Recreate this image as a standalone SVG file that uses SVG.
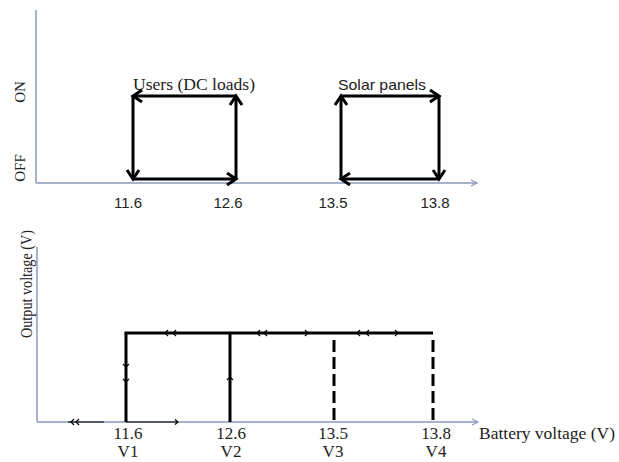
<svg xmlns="http://www.w3.org/2000/svg" width="619" height="462" viewBox="0 0 619 462">
<defs>
<marker id="head" markerUnits="userSpaceOnUse" markerWidth="20" markerHeight="20" refX="10" refY="6.5" orient="auto" viewBox="0 0 20 13">
<path d="M1,0.5 L10,6.5 L1,12.5" fill="none" stroke="#000" stroke-width="3" stroke-linejoin="miter"/>
</marker>
<marker id="ax" markerUnits="userSpaceOnUse" markerWidth="10" markerHeight="10" refX="7" refY="4" orient="auto" viewBox="0 0 10 8">
<path d="M1,1 L7,4 L1,7" fill="none" stroke="#8a9abb" stroke-width="1.2"/>
</marker>
</defs>
<style>
.axis{stroke:#8a9abb;stroke-width:1.5;fill:none}
.box{stroke:#000;stroke-width:3;fill:none;marker-end:url(#head)}
.solid{stroke:#000;stroke-width:3;fill:none}
.dash{stroke:#000;stroke-width:3;fill:none;stroke-dasharray:12 5}
.tiny{stroke:#000;stroke-width:1.2;fill:none}
.serif{font-family:"Liberation Serif","Times New Roman",serif;fill:#222}
.sans{font-family:"Liberation Sans",Arial,sans-serif;fill:#222}
</style>
<rect width="619" height="462" fill="#fff"/>

<g id="top-axes">
<line class="axis" x1="36" y1="10" x2="36" y2="183"/>
<line class="axis" x1="36" y1="183" x2="477" y2="183" marker-end="url(#ax)"/>
<text class="serif" font-size="15" transform="translate(25,92) rotate(-90)" text-anchor="middle">ON</text>
<text class="serif" font-size="15" transform="translate(25,168) rotate(-90)" text-anchor="middle">OFF</text>
<text class="sans" font-size="15" x="128" y="208" text-anchor="middle">11.6</text>
<text class="sans" font-size="15" x="228" y="208" text-anchor="middle">12.6</text>
<text class="sans" font-size="15" x="333" y="208" text-anchor="middle">13.5</text>
<text class="sans" font-size="15" x="435" y="208" text-anchor="middle">13.8</text>
</g>

<g id="connectors">
<g id="users-loop">
<line class="box" x1="236" y1="96" x2="133" y2="96"/>
<line class="box" x1="133" y1="96" x2="133" y2="179"/>
<line class="box" x1="133" y1="179" x2="236" y2="179"/>
<line class="box" x1="236" y1="179" x2="236" y2="96"/>
</g>
<g id="solar-loop">
<line class="box" x1="341" y1="96" x2="439" y2="96"/>
<line class="box" x1="439" y1="96" x2="439" y2="179"/>
<line class="box" x1="439" y1="179" x2="341" y2="179"/>
<line class="box" x1="341" y1="179" x2="341" y2="96"/>
</g>
</g>

<g id="users-label">
<text class="serif" font-size="17" x="133" y="90" textLength="122" lengthAdjust="spacingAndGlyphs">Users (DC loads)</text>
</g>
<g id="solar-label">
<text class="sans" font-size="15" x="338" y="90" textLength="88" lengthAdjust="spacingAndGlyphs">Solar panels</text>
</g>

<g id="bottom-axes">
<line class="axis" x1="37" y1="247" x2="37" y2="422"/>
<line class="axis" x1="37" y1="422" x2="478" y2="422" marker-end="url(#ax)"/>
<text class="serif" font-size="16" transform="translate(32,284) rotate(-90)" text-anchor="middle" textLength="108" lengthAdjust="spacingAndGlyphs">Output voltage (V)</text>
<text class="serif" font-size="17" x="479" y="439" textLength="136" lengthAdjust="spacingAndGlyphs">Battery voltage (V)</text>
<text class="serif" font-size="17" x="128" y="439" text-anchor="middle">11.6</text>
<text class="serif" font-size="17" x="128" y="457" text-anchor="middle">V1</text>
<text class="serif" font-size="17" x="231" y="439" text-anchor="middle">12.6</text>
<text class="serif" font-size="17" x="231" y="457" text-anchor="middle">V2</text>
<text class="serif" font-size="17" x="333" y="439" text-anchor="middle">13.5</text>
<text class="serif" font-size="17" x="333" y="457" text-anchor="middle">V3</text>
<text class="serif" font-size="17" x="436" y="439" text-anchor="middle">13.8</text>
<text class="serif" font-size="17" x="436" y="457" text-anchor="middle">V4</text>
</g>

<g id="output-curve">
<line class="solid" x1="124.5" y1="333" x2="433" y2="333"/>
<line class="solid" x1="126" y1="333" x2="126" y2="422"/>
<line class="solid" x1="230" y1="333" x2="230" y2="422" stroke-width="4.5"/>
<line class="dash" x1="334" y1="340" x2="334" y2="422"/>
<line class="dash" x1="433" y1="340" x2="433" y2="422"/>
<line class="tiny" x1="68" y1="422" x2="104" y2="422"/>
<line class="tiny" x1="126" y1="422" x2="178" y2="422"/>
<path class="tiny" d="M74,419 L71,422 L74,425 M79,419 L76,422 L79,425"/>
<path class="tiny" d="M175,419.5 L178,422 L175,424.5"/>
<path class="tiny" d="M168,330 L165,333 L168,336 M176,330 L173,333 L176,336"/>
<path class="tiny" d="M260,330 L257,333 L260,336 M267,330 L264,333 L267,336"/>
<path class="tiny" d="M305,330 L308,333 L305,336"/>
<path class="tiny" d="M360,330 L357,333 L360,336 M369,330 L366,333 L369,336"/>
<path class="tiny" d="M395,330 L398,333 L395,336"/>
<path class="tiny" d="M123,364 L126,367 L129,364 M123,379 L126,382 L129,379"/>
<path class="tiny" d="M227,380 L230,377 L233,380"/>
</g>
</svg>
